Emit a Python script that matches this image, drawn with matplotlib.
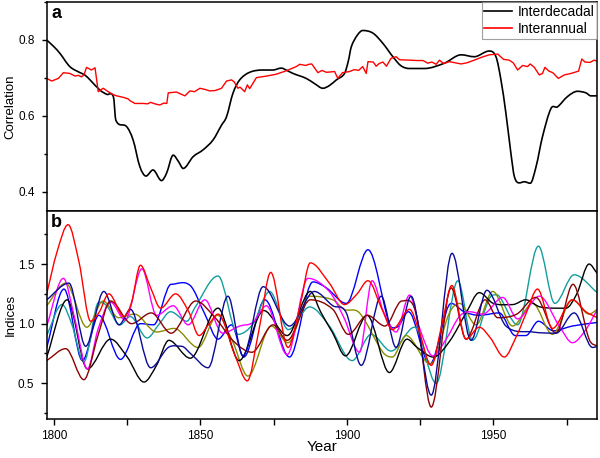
import matplotlib
matplotlib.use('Agg')
import matplotlib.pyplot as plt
from matplotlib.path import Path
from matplotlib.patches import PathPatch
from matplotlib.lines import Line2D
from matplotlib.ticker import MultipleLocator, FormatStrFormatter
import numpy as np

plt.rcParams['font.family'] = ['Liberation Sans', 'DejaVu Sans']

# ---------------- Panel a data ----------------
interdecadal_year = [1797.5, 1800, 1802, 1805.4, 1808.9, 1810.5, 1812.3, 1815.7, 1818, 1820.3, 1821.1,
                     1824.8, 1827.0, 1829.3, 1831.4, 1833.8, 1836.7, 1838.4, 1840.7, 1842.5, 1844.1,
                     1847.5, 1850.9, 1854.3, 1857.2, 1858.9, 1861.1, 1863.4, 1866.8, 1871.3, 1874.7,
                     1877.6, 1879.5, 1881.6, 1886.1, 1889, 1891.8, 1894, 1896.4, 1899.2, 1900.5, 1901.5,
                     1903.5, 1905.4, 1908.9, 1912.3, 1915.7, 1918.5, 1921.4, 1926.5, 1933.3, 1939.0,
                     1943.5, 1948.6, 1950.9, 1952.6, 1954.3, 1956.0, 1957.2, 1958.9, 1960.6, 1962.6,
                     1964.6, 1966.8, 1969.7, 1971.9, 1975.3, 1978.7, 1981.6, 1983.3, 1985.5]
interdecadal_val = [0.800, 0.782, 0.765, 0.730, 0.714, 0.708, 0.695, 0.668, 0.657, 0.650, 0.589,
                    0.572, 0.537, 0.467, 0.442, 0.458, 0.430, 0.449, 0.497, 0.480, 0.462,
                    0.493, 0.511, 0.537, 0.576, 0.598, 0.660, 0.695, 0.715, 0.721, 0.721,
                    0.726, 0.720, 0.712, 0.699, 0.685, 0.673, 0.680, 0.695, 0.712, 0.745, 0.782,
                    0.812, 0.825, 0.818, 0.791, 0.756, 0.732, 0.725, 0.725, 0.739, 0.761,
                    0.756, 0.771, 0.756, 0.695, 0.607, 0.502, 0.440, 0.424, 0.427, 0.423,
                    0.467, 0.546, 0.620, 0.624, 0.651, 0.665, 0.661, 0.653, 0.653]

interannual_year = [1797.5, 1799.2, 1801.5, 1803.2, 1805.4, 1807.2, 1808.3, 1809.4, 1810.2, 1811.1,
                    1812.8, 1814.0, 1815.1, 1816.8, 1818.5, 1820, 1821.4, 1823.7, 1825.3, 1826,
                    1827.6, 1830.4, 1832, 1833, 1834.4, 1836.1, 1837.5, 1838.5, 1839, 1841.8,
                    1844.7, 1846.4, 1848, 1849.8, 1851.5, 1853.2, 1855, 1857.2, 1858.9, 1860.6,
                    1861.5, 1862.8, 1863.5, 1865.1, 1866, 1866.8, 1869.1, 1872.5, 1875.9, 1879.3,
                    1882.7, 1883.9, 1886, 1887, 1888, 1890.1, 1891.5, 1893, 1895.8, 1896.9,
                    1898.5, 1900.9, 1902.5, 1904, 1905.4, 1906.6, 1907.2, 1909, 1910, 1911,
                    1912.3, 1913.5, 1915.1, 1916.8, 1918, 1921.4, 1924, 1926, 1927.6, 1929,
                    1930.5, 1931.6, 1933, 1935, 1937, 1939, 1941, 1943.5, 1945.8, 1948.6,
                    1951.5, 1953.5, 1955.4, 1956.8, 1958.3, 1960, 1961.7, 1962.6, 1964, 1965.7,
                    1966.8, 1967.6, 1969, 1970.3, 1972.2, 1974.2, 1976.5, 1979.1, 1980.2, 1981.3,
                    1983, 1984.4, 1985.5]
interannual_val = [0.699, 0.692, 0.699, 0.714, 0.712, 0.705, 0.707, 0.703, 0.708, 0.728,
                   0.721, 0.727, 0.664, 0.673, 0.664, 0.657, 0.653, 0.649, 0.645, 0.640,
                   0.633, 0.633, 0.632, 0.636, 0.632, 0.629, 0.634, 0.633, 0.661, 0.663,
                   0.653, 0.666, 0.664, 0.673, 0.670, 0.666, 0.667, 0.673, 0.692, 0.695,
                   0.690, 0.673, 0.676, 0.664, 0.682, 0.672, 0.701, 0.705, 0.710, 0.719,
                   0.730, 0.736, 0.733, 0.736, 0.737, 0.714, 0.720, 0.715, 0.717, 0.699,
                   0.714, 0.717, 0.722, 0.720, 0.730, 0.712, 0.743, 0.742, 0.731, 0.738,
                   0.742, 0.731, 0.752, 0.756, 0.748, 0.747, 0.746, 0.746, 0.739, 0.742,
                   0.736, 0.747, 0.738, 0.743, 0.740, 0.737, 0.740, 0.747, 0.754, 0.761,
                   0.763, 0.749, 0.747, 0.740, 0.721, 0.733, 0.730, 0.737, 0.728, 0.708,
                   0.712, 0.728, 0.718, 0.714, 0.699, 0.708, 0.712, 0.718, 0.750, 0.742,
                   0.741, 0.747, 0.744]

# ---------------- Panel b data ----------------
red_year = [1797.5, 1801, 1804.8, 1808.5, 1812.5, 1815.5, 1818.7, 1823.9, 1826.5, 1829.5, 1833, 1836.4,
            1841.5, 1846, 1849.5, 1853, 1856, 1861.7, 1866, 1870, 1874, 1879.9, 1884, 1887.5, 1894,
            1899.2, 1903.5, 1907.2, 1912, 1915.5, 1921.4, 1924.5, 1928.8, 1932.5, 1935.8, 1940.7,
            1945.2, 1949, 1953.7, 1958, 1961.1, 1965.1, 1970.2, 1977, 1981.6, 1985.5]
red_val = [1.25, 1.60, 1.83, 1.52, 1.02, 1.10, 1.25, 1.06, 1.18, 1.49, 1.30, 1.13,
           1.25, 1.10, 0.90, 1.00, 1.08, 0.74, 0.52, 0.95, 1.43, 0.80, 1.15, 1.51, 1.34,
           1.16, 1.25, 1.36, 1.12, 0.95, 1.12, 0.95, 0.65, 1.00, 1.32, 0.87,
           0.97, 0.88, 0.72, 0.90, 1.08, 1.29, 0.96, 1.20, 1.10, 1.05]

magenta_year = [1797.5, 1803.2, 1807, 1811.4, 1815, 1819.3, 1824.3, 1830, 1835, 1840.7, 1845.8, 1851.5,
                1857.5, 1863.4, 1867.9, 1872.5, 1879.6, 1886.7, 1894, 1899, 1904.3, 1908.6, 1912.5,
                1916.8, 1921.4, 1925, 1929.3, 1933.9, 1938.4, 1941.8, 1946.4, 1953.2, 1958.3, 1965.7,
                1972.5, 1977, 1981.6, 1985.5]
magenta_val = [0.98, 1.38, 1.05, 0.62, 0.95, 1.18, 1.03, 1.46, 1.07, 1.15, 0.99, 1.20,
               0.92, 0.98, 1.01, 1.15, 0.74, 1.38, 1.27, 1.05, 0.76, 1.36, 1.10,
               0.93, 1.24, 0.95, 0.73, 0.87, 1.06, 1.10, 1.08, 1.22, 1.04, 1.23,
               0.98, 0.84, 0.95, 1.12]

blue_year = [1797.5, 1803.4, 1809.7, 1815.3, 1822.7, 1829.5, 1834, 1840, 1846.5, 1851.5, 1856, 1860.6,
             1864.8, 1872, 1880.4, 1888.4, 1893, 1899.8, 1907.2, 1914.5, 1917, 1921, 1928.3, 1935.6,
             1940, 1945.2, 1952, 1957.5, 1961.1, 1965.4, 1970.5, 1977, 1985.5]
blue_val = [0.80, 1.29, 0.69, 1.07, 0.70, 1.00, 0.99, 1.33, 1.32, 1.08, 0.87, 0.99,
            0.72, 1.20, 0.72, 1.35, 1.30, 1.17, 1.62, 1.00, 0.97, 1.10, 0.66, 1.17,
            1.10, 1.07, 1.09, 0.90, 0.90, 1.02, 0.94, 0.98, 1.01]

navy_year = [1797.5, 1805.1, 1810.8, 1817, 1822.2, 1826.1, 1833, 1839, 1843.5, 1847, 1852.6, 1859.4,
             1864.5, 1871.4, 1880.4, 1888.9, 1895.2, 1899.8, 1904.9, 1911.7, 1916.8, 1921.9, 1928.8,
             1935.9, 1942.4, 1947.8, 1954.3, 1963.4, 1971.4, 1977.6, 1983.9, 1985.5]
navy_val = [1.20, 1.34, 0.81, 1.27, 0.99, 1.12, 0.63, 0.80, 0.81, 0.74, 0.63, 1.23,
            0.73, 1.31, 0.98, 1.27, 1.15, 1.09, 0.65, 1.23, 0.80, 1.23, 0.40,
            1.59, 0.86, 1.28, 0.98, 0.93, 0.92, 1.09, 0.80, 0.81]

teal_year = [1797.5, 1802.7, 1806, 1810.2, 1815.3, 1818, 1822.5, 1826, 1831.8, 1836, 1839.8, 1845.4,
             1848, 1856, 1862.8, 1868, 1873.6, 1880, 1887.3, 1894, 1901.8, 1908.3, 1915.1, 1923.1,
             1930.5, 1937.9, 1942.9, 1949.8, 1952, 1958.3, 1965.4, 1971, 1977.6, 1985.5]
teal_val = [0.90, 1.16, 1.00, 0.68, 1.18, 1.15, 0.99, 1.06, 0.88, 1.00, 1.10, 1.02,
            1.13, 1.40, 0.91, 1.00, 1.27, 0.95, 1.14, 0.98, 0.69, 0.91, 0.77, 0.97,
            0.50, 1.36, 0.86, 1.24, 1.23, 0.99, 1.65, 1.17, 1.41, 1.26]

olive_year = [1797.5, 1804, 1811.2, 1816.8, 1822, 1827.5, 1835, 1841, 1849.2, 1855.8, 1861, 1866.2,
              1874.2, 1879.9, 1887.3, 1895.2, 1899, 1904.3, 1912.3, 1915.5, 1920.2, 1928.5, 1935,
              1938.5, 1944.1, 1949.8, 1956.6, 1963.4, 1970.2, 1977, 1982.7, 1985.5]
olive_val = [1.15, 1.34, 0.97, 1.19, 1.05, 1.08, 0.93, 0.96, 0.80, 1.07, 0.85, 0.56,
             0.98, 0.84, 1.23, 1.20, 1.12, 1.09, 0.76, 0.72, 0.90, 0.66, 1.09,
             1.17, 0.99, 1.27, 0.98, 1.17, 0.91, 1.20, 1.08, 1.12]

black_year = [1797.5, 1804.5, 1811.4, 1819.3, 1825, 1830.7, 1835, 1839.2, 1846.5, 1856, 1863.2, 1871.6,
              1879.6, 1887.5, 1891, 1895.2, 1899.5, 1906.9, 1914.5, 1920.5, 1924, 1929.5, 1935,
              1940.7, 1945.2, 1950, 1956.6, 1961, 1966, 1974.8, 1978.5, 1982.7, 1985.5]
black_val = [0.72, 1.20, 0.62, 0.87, 0.72, 0.51, 0.65, 0.86, 0.71, 1.13, 0.69, 1.11,
             0.90, 1.27, 1.10, 0.92, 0.73, 1.07, 0.59, 0.87, 0.80, 0.72, 0.85,
             1.09, 1.26, 1.17, 1.16, 1.20, 1.14, 1.13, 1.25, 1.50, 1.42]

darkred_year = [1797.5, 1804, 1810.2, 1815, 1819.3, 1826.5, 1833.2, 1840, 1848.4, 1855, 1861.4, 1867.6,
                1874.8, 1879.6, 1887.5, 1895.2, 1900.5, 1907, 1913, 1918.8, 1923.6, 1928.8, 1935.6,
                1940.7, 1947.2, 1951.5, 1958, 1964.5, 1971.4, 1977.2, 1982.7, 1985.5]
darkred_val = [0.69, 0.79, 0.53, 0.90, 1.19, 1.00, 1.09, 0.92, 1.19, 1.05, 0.85, 0.76,
               0.99, 0.86, 1.20, 1.12, 0.91, 1.07, 0.98, 1.19, 1.09, 0.30, 1.30,
               0.87, 1.20, 1.05, 1.08, 1.22, 0.92, 1.33, 0.87, 0.81]

series_b = [
    (blue_year, blue_val, '#0000FF'),
    (teal_year, teal_val, '#139E9E'),
    (olive_year, olive_val, '#8B8B00'),
    (black_year, black_val, '#000000'),
    (magenta_year, magenta_val, '#FF00FF'),
    (darkred_year, darkred_val, '#8B0000'),
    (navy_year, navy_val, '#0A0A96'),
    (red_year, red_val, '#FF0000'),
]


def smooth_path(xs, ys):
    """Cubic Bezier path through the given data points (monotone in x)."""
    xs = np.asarray(xs, float)
    ys = np.asarray(ys, float)
    n = len(xs)
    m = np.empty(n)
    m[0] = (ys[1] - ys[0]) / (xs[1] - xs[0])
    m[-1] = (ys[-1] - ys[-2]) / (xs[-1] - xs[-2])
    for i in range(1, n - 1):
        if (ys[i] - ys[i - 1]) * (ys[i + 1] - ys[i]) <= 0:
            m[i] = 0.0
        else:
            m[i] = (ys[i + 1] - ys[i - 1]) / (xs[i + 1] - xs[i - 1])
    verts = [(xs[0], ys[0])]
    codes = [Path.MOVETO]
    for i in range(n - 1):
        dx = xs[i + 1] - xs[i]
        verts += [(xs[i] + dx / 3, ys[i] + m[i] * dx / 3),
                  (xs[i + 1] - dx / 3, ys[i + 1] - m[i + 1] * dx / 3),
                  (xs[i + 1], ys[i + 1])]
        codes += [Path.CURVE4] * 3
    return Path(verts, codes)


fig = plt.figure(figsize=(6.0, 4.58), dpi=100)
L, R = 46.7 / 600, 597.3 / 600
ax_a = fig.add_axes([L, 1 - 211 / 458, R - L, (211 - 2) / 458])
ax_b = fig.add_axes([L, 1 - 419 / 458, R - L, (419 - 211) / 458])

XMIN, XMAX = 1797.5, 1985.5

# ---- panel a ----
ax_a.add_patch(PathPatch(smooth_path(interdecadal_year, interdecadal_val), fill=False,
                         edgecolor='black', lw=1.2, capstyle='round', joinstyle='round'))
ax_a.plot(interannual_year, interannual_val, color='#FF0000', lw=1.0)
ax_a.set_xlim(XMIN, XMAX)
ax_a.set_ylim(0.35, 0.9)
ax_a.yaxis.set_major_locator(MultipleLocator(0.2))
ax_a.yaxis.set_minor_locator(MultipleLocator(0.1))
ax_a.xaxis.set_major_locator(MultipleLocator(50))
ax_a.xaxis.set_minor_locator(MultipleLocator(25))
ax_a.tick_params(axis='x', which='both', direction='out', length=4, width=1.0,
                 labelbottom=False, bottom=True, top=False)
ax_a.tick_params(axis='y', which='major', direction='out', length=3.5, width=1.0, labelsize=8.5, pad=5)
ax_a.tick_params(axis='y', which='minor', direction='out', length=2.2, width=1.0)
ax_a.set_ylabel('Correlation', fontsize=9.5)
ax_a.text(0.008, 0.985, 'a', transform=ax_a.transAxes, fontsize=13, fontweight='bold',
          va='top', ha='left')
handles = [Line2D([], [], color='black', lw=1.2), Line2D([], [], color='#FF0000', lw=1.2)]
leg = ax_a.legend(handles, ['Interdecadal', 'Interannual'], loc='upper right',
                  bbox_to_anchor=(1.0, 1.0), fontsize=10, frameon=True, fancybox=False,
                  borderpad=0.2, labelspacing=0.25, handlelength=2.0, handletextpad=0.4,
                  borderaxespad=0.0)
leg.get_frame().set_edgecolor('#888888')
leg.get_frame().set_linewidth(0.8)
for s in ax_a.spines.values():
    s.set_linewidth(1.1)

# ---- panel b ----
for yrs, vals, col in series_b:
    ax_b.add_patch(PathPatch(smooth_path(yrs, vals), fill=False, edgecolor=col, lw=1.0,
                             capstyle='round', joinstyle='round'))
ax_b.set_xlim(XMIN, XMAX)
ax_b.set_ylim(0.2, 1.945)
ax_b.yaxis.set_major_locator(MultipleLocator(0.5))
ax_b.yaxis.set_minor_locator(MultipleLocator(0.25))
ax_b.xaxis.set_major_locator(MultipleLocator(50))
ax_b.xaxis.set_minor_locator(MultipleLocator(25))
ax_b.tick_params(axis='both', which='major', direction='out', length=4, width=1.0, labelsize=8.5, pad=4)
ax_b.tick_params(axis='x', which='minor', direction='out', length=4, width=1.0)
ax_b.tick_params(axis='y', which='minor', direction='out', length=2.2, width=1.0)
ax_b.tick_params(axis='y', which='major', pad=5)
ax_b.tick_params(axis='x', which='both', top=False)
ax_b.set_ylabel('Indices', fontsize=9.5)
ax_b.set_xlabel('Year', fontsize=11)
ax_b.yaxis.set_major_formatter(FormatStrFormatter('%.1f'))
ax_b.text(0.008, 0.985, 'b', transform=ax_b.transAxes, fontsize=13, fontweight='bold',
          va='top', ha='left')
for s in ax_b.spines.values():
    s.set_linewidth(1.1)

ax_a.yaxis.set_label_coords(-0.055, 0.5)
ax_b.yaxis.set_label_coords(-0.055, 0.5)
ax_b.xaxis.set_label_coords(0.5, -0.101)

fig.savefig('out.png', dpi=100)
